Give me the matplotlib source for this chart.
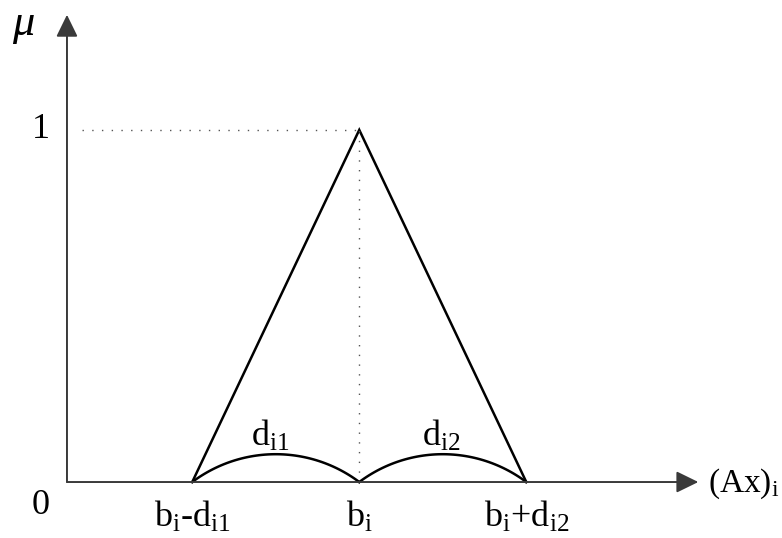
import numpy as np
import matplotlib.pyplot as plt

plt.rcParams['mathtext.fontset'] = 'custom'
plt.rcParams['mathtext.rm'] = 'Liberation Serif'
plt.rcParams['mathtext.it'] = 'Liberation Serif:italic'
plt.rcParams['font.family'] = ['Liberation Serif', 'DejaVu Serif']

# triangular membership function parameters
b_i = 1.75
d_i1 = 1.0
d_i2 = 1.0
tri_x = [b_i - d_i1, b_i, b_i + d_i2]
tri_mu = [0, 1, 0]
tick_labels = [r'$\mathrm{b_i}$-$\mathrm{d_{i1}}$', r'$\mathrm{b_i}$', r'$\mathrm{b_i}$+$\mathrm{d_{i2}}$']
arc_height = 0.079  # sagitta of the spread arcs, in mu units

x_max = 3.78
y_max = 1.327

fig = plt.figure(figsize=(7.82, 5.38), dpi=100)
ax = fig.add_axes([0, 0, 1, 1])
ax.set_xlim(-0.401, 4.281)
ax.set_ylim(-0.159, 1.369)
ax.axis('off')

axis_color = '#3a3a3a'
head = dict(arrowstyle='-|>,head_length=0.45,head_width=0.22', mutation_scale=30,
            lw=1.4, color=axis_color, shrinkA=0, shrinkB=0)
ax.annotate('', xy=(x_max, 0), xytext=(0, 0), arrowprops=head)
ax.annotate('', xy=(0, y_max), xytext=(0, 0), arrowprops=head)

# triangle
ax.plot(tri_x, tri_mu, color='black', lw=1.8, solid_joinstyle='miter')

# guide lines to the peak
ax.plot([0.09, b_i], [1, 1], color='#555555', lw=1.0, ls=(0, (1, 6)))
ax.plot([b_i, b_i], [0, 1], color='#555555', lw=1.0, ls=(0, (1, 6)))

# circular arcs spanning the left and right spreads
def spread_arc(x0, x1, h, n=60):
    # build the arc in pixel-like units so it stays circular
    sx, sy = 167.0, 352.0
    c = (x1 - x0) * sx
    hp = h * sy
    r = (c * c / 4 + hp * hp) / (2 * hp)
    t_max = np.arcsin(c / 2 / r)
    t = np.linspace(-t_max, t_max, n)
    px = r * np.sin(t)
    py = r * np.cos(t) - (r - hp)
    return (x0 + x1) / 2 + px / sx, py / sy

for x0, x1 in [(tri_x[0], tri_x[1]), (tri_x[1], tri_x[2])]:
    ax_, ay_ = spread_arc(x0, x1, arc_height)
    ax.plot(ax_, ay_, color='black', lw=1.8)

fs = 26
for x, lab in zip(tri_x, tick_labels):
    ax.text(x, -0.128, lab, ha='center', va='baseline', fontsize=fs)

ax.text((tri_x[0] + tri_x[1]) / 2 - 0.03, 0.13, r'$\mathrm{d_{i1}}$', ha='center', va='center', fontsize=fs)
ax.text((tri_x[1] + tri_x[2]) / 2 - 0.01, 0.13, r'$\mathrm{d_{i2}}$', ha='center', va='center', fontsize=fs)

ax.text(-0.156, 1.0, '1', ha='center', va='center', fontsize=fs)
ax.text(-0.156, -0.068, '0', ha='center', va='center', fontsize=fs)
ax.text(-0.258, 1.295, r'$\mu$', ha='center', va='center', fontsize=32)
ax.text(3.838, -0.005, r'$\mathrm{(Ax)_i}$', ha='left', va='center', fontsize=24)

fig.savefig('out.png', dpi=100)
